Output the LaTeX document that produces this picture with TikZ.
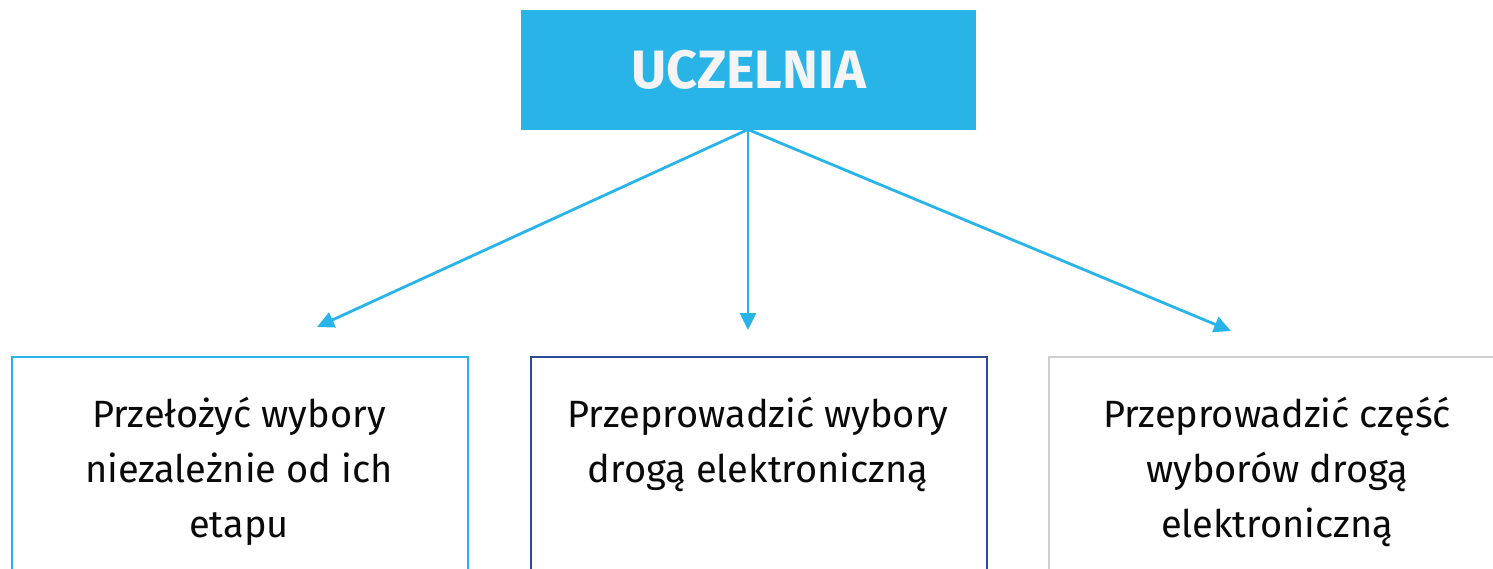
\documentclass[tikz,border=0pt]{standalone}
\usepackage{fontspec}
\setmainfont{Fira Sans}
\usetikzlibrary{arrows.meta}
\definecolor{cyanb}{HTML}{29B4E8}
\definecolor{navyb}{HTML}{2B4A93}
\definecolor{grayb}{HTML}{CFCFCF}
\definecolor{titletext}{HTML}{F4F4F4}
\definecolor{bodytext}{HTML}{0A0A0A}
\begin{document}
\begin{tikzpicture}[x=1pt,y=-1pt,
  box/.style={draw, line width=2pt, minimum width=456pt, minimum height=300pt, anchor=north west, inner sep=0pt},
  boxtext/.style={align=center, text=bodytext, font=\fontsize{38}{55}\selectfont, anchor=base, inner sep=0pt},
  conn/.style={draw=cyanb, line width=2.8pt, -{Triangle[length=17pt,width=16pt]}}]
\clip (0,0) rectangle (1493,569);
\fill[white] (0,0) rectangle (1493,569);
\node[fill=cyanb, minimum width=455pt, minimum height=120pt, anchor=north west, inner sep=0pt,
      text=titletext, font=\fontsize{54}{60}\selectfont\bfseries] (top) at (521,9.5) {UCZELNIA};
\node[box, draw=cyanb] (b1) at (11,356) {};
\node[box, draw=navyb] (b2) at (530,356) {};
\node[box, draw=grayb] (b3) at (1048,356) {};
% anchor "base" of a multi-line node is the baseline of its last line
\node[boxtext] (t1) at (239,537) {Przełożyć wybory\\niezależnie od ich\\etapu};
\node[boxtext] (t2) at (758,482) {Przeprowadzić wybory\\drogą elektroniczną};
\node[boxtext] (t3) at (1277,537) {Przeprowadzić część\\wyborów drogą\\elektroniczną};
\coordinate (e1) at (317,327);
\coordinate (e2) at (748,330);
\coordinate (e3) at (1231,331);
\coordinate (s) at (748,129.5);
\draw[conn] (s) -- (e1);
\draw[conn] (s) -- (e2);
\draw[conn] (s) -- (e3);
\end{tikzpicture}
\end{document}
